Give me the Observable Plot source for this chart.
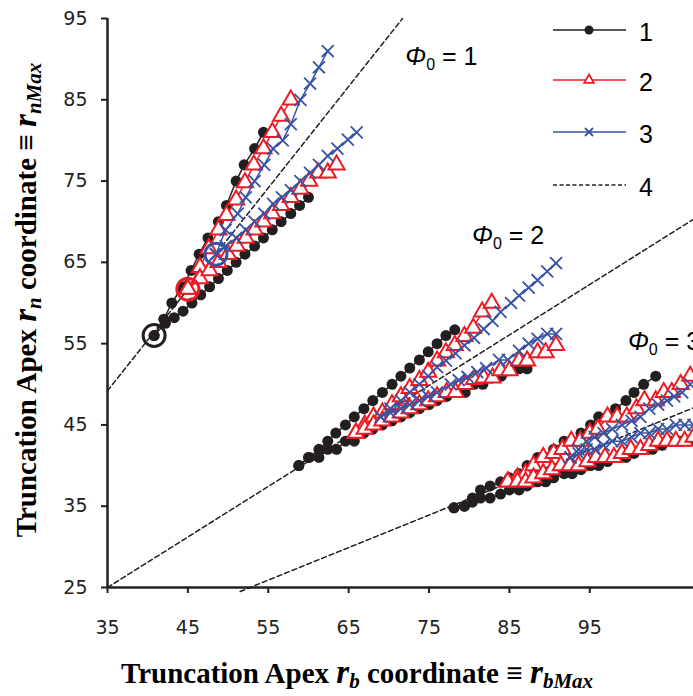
<!DOCTYPE html>
<html><head><meta charset="utf-8">
<script src="https://cdn.jsdelivr.net/npm/d3@7"></script>
<script src="https://cdn.jsdelivr.net/npm/@observablehq/plot@0.6"></script>
<style>
body{margin:0;background:#fff}
svg [aria-label$="tick label"] text{font-size:19px !important}
</style>
</head><body><div id="chart"></div>
<script>
const xTicks = [35,45,55,65,75,85,95];
const yTicks = [25,35,45,55,65,75,85,95];
const seriesNames = ["1","2","3","4"];
const phiLabels = ["1","2","3"];

// Φ0 = 1
const s1p1Upper = [[40.8,56],[42,58],[43,60],[44.3,62],[45.4,64],[46.4,66],[47.5,68],[48.8,70],[49.8,72],[51,75],[52,77],[53.3,79],[54.4,81]];
const s1p1Lower = [[40.8,56],[42.2,57.5],[43.3,58.2],[44.4,59],[45.5,60],[46.6,61],[47.7,62],[48.8,63],[49.9,64],[51,65],[52.1,66],[53.3,67],[54.4,68],[55.5,69],[56.6,70],[57.8,71],[58.9,72],[60,73]];
const s2p1Upper = [[45,61.7],[46.5,64.4],[47.6,66.7],[48.8,69],[49.8,70.8],[51,72.7],[52.1,74.8],[53.2,77],[54.4,79],[55.5,81],[56.6,83],[57.8,85]];
const s2p1Lower = [[45,61.7],[46.5,63],[47.7,64],[48.8,65],[50,66],[51.1,67],[52.2,68],[53.3,69],[54.4,70],[55.5,71],[56.6,72],[57.8,73],[59,74],[60.1,75],[61.2,76],[62.4,76],[63.5,77]];
const s3p1Upper = [[48.5,66],[49.7,69],[51.2,71],[52.2,73],[53.3,75],[54.5,77],[55.6,79],[56.8,80],[57.8,82],[59,85],[60.2,87],[61.3,89],[62.4,91]];
const s3p1Lower = [[48.5,66],[49.7,67],[51,68],[52.2,69],[53.3,70],[54.5,71],[55.6,72.2],[56.7,73],[57.8,73.9],[59,75],[60.2,76],[61.3,77],[62.4,78.1],[63.6,79],[64.9,80.1],[66,81]];

// Φ0 = 2
const s1p2Upper = [[58.8,40],[60.1,41],[61.3,42],[62.4,43],[63.4,44],[64.6,45],[65.7,46],[66.9,47],[68,48],[69.2,49],[70.4,50],[71.5,51],[72.6,52],[73.8,53],[74.9,54],[76,55],[77.1,56],[78.2,56.7]];
const s1p2Lower = [[58.8,40],[60,41],[61.3,41],[62.4,42],[63.5,42],[64.6,43],[65.7,43],[66.9,44],[68,44.5],[69.2,45],[70.4,45.5],[71.5,46],[72.6,46.5],[73.8,47],[75,47.5],[76,48],[77.2,48.5],[78.3,49],[79.5,49],[80.6,50],[81.7,50],[82.9,50.8],[84,51],[85.2,51.9],[86.2,51.9],[87.2,51.9]];
const s2p2Upper = [[65.9,44],[67,45],[68.1,46],[69.2,46.5],[70.4,47.5],[71.5,48.5],[72.6,49.5],[73.8,50.5],[74.9,51.5],[76,52.9],[77.1,53.9],[78.2,54.8],[79.4,55.9],[80.5,56.9],[81.6,58.9],[82.8,60]];
const s2p2Lower = [[65.9,44],[67,44.5],[68.1,45],[69.2,45.5],[70.4,46],[71.5,46.5],[72.6,47],[73.8,47.5],[74.9,48],[76,48.5],[77.2,49],[78.3,49],[79.5,50],[80.6,50.6],[81.8,50.8],[82.9,50.8],[83.9,51.7],[85,51.7],[86.2,52.9],[87.2,52.9],[88.5,53.9],[89.5,53.9],[90.8,54.8]];
const s3p2Upper = [[69,46],[70.2,47],[71.5,48],[72.6,49],[73.8,50],[74.9,51],[76,52.1],[77.1,52.9],[78.3,53.8],[79.4,54.8],[80.6,55.7],[81.8,56.8],[82.9,57.8],[83.9,58.9],[85.2,60],[86.2,60.9],[87.4,61.9],[88.5,62.8],[89.7,63.9],[90.8,64.9]];
const s3p2Lower = [[69,46],[70.2,46.5],[71.5,47],[72.6,47.5],[73.8,48],[74.9,48.5],[76,49],[77.7,50],[78.7,50.5],[79.8,50.9],[81,51.5],[82.1,52],[83.7,53],[84.8,53],[86.2,54.1],[87.4,55],[88.5,55.6],[89.7,56.2],[90.8,56.2]];

// Φ0 = 3
const s1p3Upper = [[78.1,34.8],[79.4,35],[80.4,36],[81.4,37],[82.6,37.5],[83.9,38],[85,38.5],[86.2,39],[87.2,40],[88.5,41],[89.5,41],[90.5,42],[91.8,43],[92.8,43],[93.9,44],[95.1,45],[96.1,46],[97.2,46],[98.2,47],[99.5,48],[100.5,49],[101.7,50],[103.2,51]];
const s1p3Lower = [[78.1,34.8],[79.4,35],[80.4,35.5],[81.4,36],[82.6,36],[83.9,36.5],[85,37],[86.2,37],[87.2,37.5],[88.5,38],[89.5,38],[90.5,38.5],[91.8,39],[92.8,39],[93.9,39.5],[95.1,40],[96.1,40],[97.2,40.5],[98.2,41],[99.5,41],[100.5,41.5],[101.7,42],[102.8,42],[104,42.5],[105,43],[106.2,43],[107.3,43]];
const s2p3Upper = [[84.8,38],[86,38.5],[87,39],[88,40],[89.2,41],[90.5,41.5],[91.6,42],[92.7,43],[93.8,43],[95,44],[96,44.5],[97.2,46],[98.4,46],[99.6,46],[100.8,47],[101.8,48],[103.2,48],[104.2,49],[105.2,49],[106.3,50],[107.5,51]];
const s2p3Lower = [[84.8,38],[86,38],[87,38],[88,38.5],[89.2,39],[90.3,39.5],[91.4,40],[92.5,40],[93.6,40],[94.7,40.5],[95.8,41],[96.9,41],[98,41],[99,41.5],[100.1,42],[101.3,42],[102.4,42.5],[103.5,43],[104.6,43],[105.7,43],[106.8,43],[107.9,43.5]];
const s3p3Upper = [[92.6,41],[93.6,42],[94.6,43],[95.6,43.5],[96.7,44],[97.8,44.5],[99,45],[100.2,45.5],[101.3,46],[102.4,47],[103.5,47.5],[104.6,48],[105.5,48.5],[106.5,49],[107.5,50]];
const s3p3Lower = [[92.6,41],[93.6,41.5],[94.6,42],[95.6,42],[96.7,42.5],[97.8,43],[99,43],[100.2,43.5],[101.3,44],[102.4,44],[103.5,44.5],[104.6,44.5],[105.7,45],[106.8,45],[107.9,45]];

// series 4: dashed reference lines
const s4p1 = [[35,49.2],[71.7,95]];
const s4p2 = [[35,25],[107.9,70.3]];
const s4p3 = [[51.5,24.5],[107.9,47.1]];

// open circles marking starting points (Φ0 = 1)
const startCircles = [[40.8,56,"1"],[45,61.7,"2"],[48.5,66,"3"]];

// Φ0 label anchor points (data units)
const phiPos = [[72.1, 89.2], [80.4, 67.2], [99.8, 54.1]];

const colors = {"1":"#231f20","2":"#ed1c24","3":"#3953a4","4":"#231f20"};

const rows = [];
function add(series, group, pts){ pts.forEach(([x,y]) => rows.push({series, group, x, y})); }
add("1","1-1u",s1p1Upper); add("1","1-1l",s1p1Lower);
add("2","2-1u",s2p1Upper); add("2","2-1l",s2p1Lower);
add("3","3-1u",s3p1Upper); add("3","3-1l",s3p1Lower);
add("1","1-2u",s1p2Upper); add("1","1-2l",s1p2Lower);
add("2","2-2u",s2p2Upper); add("2","2-2l",s2p2Lower);
add("3","3-2u",s3p2Upper); add("3","3-2l",s3p2Lower);
add("1","1-3u",s1p3Upper); add("1","1-3l",s1p3Lower);
add("2","2-3u",s2p3Upper); add("2","2-3l",s2p3Lower);
add("3","3-3u",s3p3Upper); add("3","3-3l",s3p3Lower);
const dashRows = [];
[s4p1,s4p2,s4p3].forEach((pts,i)=>pts.forEach(([x,y])=>dashRows.push({phi:phiLabels[i],x,y})));
const circleRows = startCircles.map(([x,y,s])=>({x,y,series:s}));

const by = s => rows.filter(d => d.series === s);

const plot = Plot.plot({
  width: 693, height: 696,
  marginLeft: 107, marginRight: 0, marginTop: 18, marginBottom: 109,
  x: {domain: [35, 107.9]},
  y: {domain: [25, 95]},
  style: {fontFamily: "'DejaVu Sans', sans-serif", fontSize: "19px", color: "#231f20", background: "#fff", overflow: "visible"},
  marks: [
    Plot.axisX({ticks: xTicks, tickSize: 6, tickPadding: 27, label: null, strokeWidth: 2, fontSize: 19}),
    Plot.axisY({ticks: yTicks, tickSize: 6, tickPadding: 14, label: null, strokeWidth: 2, fontSize: 19}),
    Plot.ruleX([35], {stroke: "#231f20", strokeWidth: 2.5}),
    Plot.ruleY([25], {stroke: "#231f20", strokeWidth: 2.5}),
    Plot.line(dashRows, {x: "x", y: "y", z: "phi", stroke: colors["4"], strokeWidth: 1.5, strokeDasharray: "5,3"}),
    Plot.line(by("1"), {x: "x", y: "y", z: "group", stroke: colors["1"], strokeWidth: 1.5}),
    Plot.dot(by("1"), {x: "x", y: "y", r: 5.5, fill: colors["1"], stroke: "none"}),
    Plot.line(by("2"), {x: "x", y: "y", z: "group", stroke: colors["2"], strokeWidth: 1.5}),
    Plot.dot(by("2"), {x: "x", y: "y", r: 6, symbol: "triangle", fill: "#fff", stroke: colors["2"], strokeWidth: 2}),
    Plot.line(by("3"), {x: "x", y: "y", z: "group", stroke: colors["3"], strokeWidth: 1.5}),
    Plot.dot(by("3"), {x: "x", y: "y", r: 5.5, symbol: "times", stroke: colors["3"], strokeWidth: 1.8}),
    Plot.dot(circleRows, {x: "x", y: "y", r: 11, fill: "none", stroke: d => colors[d.series], strokeWidth: 3})
  ]
});

const svg = d3.select(plot);
const xs = plot.scale("x"), ysc = plot.scale("y");

// Φ0 annotations
phiPos.forEach(([x,y],i) => {
  const t = svg.append("text").attr("x", xs.apply(x)).attr("y", ysc.apply(y)).attr("text-anchor", "start")
    .attr("font-family", "'Liberation Sans', Arial, sans-serif").attr("font-size", 25).attr("fill", "#000");
  t.append("tspan").attr("font-style", "italic").text("Φ");
  t.append("tspan").attr("font-size", 16).attr("dy", 5).text("0");
  t.append("tspan").attr("dy", -5).text(" = " + phiLabels[i]);
});

// legend
const lg = svg.append("g");
const legY = [30, 80, 132, 185];
seriesNames.forEach((s,i) => {
  const y = legY[i];
  lg.append("line").attr("x1", 553).attr("x2", 626).attr("y1", y).attr("y2", y)
    .attr("stroke", colors[s]).attr("stroke-width", s === "4" ? 1.3 : 1.5)
    .attr("stroke-dasharray", s === "4" ? "4,2.5" : null);
  if (s === "1") lg.append("circle").attr("cx", 589).attr("cy", y).attr("r", 4.5).attr("fill", colors[s]);
  if (s === "2") lg.append("path").attr("d", d3.symbol(d3.symbolTriangle, 40)()).attr("transform", `translate(589,${y})`).attr("fill","#fff").attr("stroke", colors[s]).attr("stroke-width", 1.8);
  if (s === "3") lg.append("path").attr("d", "M-4,-4L4,4M-4,4L4,-4").attr("transform", `translate(589,${y})`).attr("stroke", colors[s]).attr("stroke-width", 1.8);
  lg.append("text").attr("x", 639).attr("y", y + 11).attr("text-anchor", "start")
    .attr("font-family", "'Liberation Sans', Arial, sans-serif")
    .attr("font-size", 25).attr("fill", "#000").text(s);
});

// axis titles
function title(sub, x, y, rotate) {
  const t = svg.append("text").attr("text-anchor", "middle")
    .attr("font-family", "'Liberation Serif', 'Times New Roman', serif").attr("font-weight", "bold")
    .attr("font-size", 29).attr("fill", "#000")
    .attr("transform", `translate(${x},${y})${rotate ? " rotate(-90)" : ""}`);
  t.append("tspan").text("Truncation Apex ");
  t.append("tspan").attr("font-style", "italic").attr("font-size", 33).text("r");
  t.append("tspan").attr("font-style", "italic").attr("font-size", 21).attr("dy", 5).text(sub);
  t.append("tspan").attr("dy", -5).text(" coordinate \u2261 ");
  t.append("tspan").attr("font-style", "italic").attr("font-size", 33).text("r");
  t.append("tspan").attr("font-style", "italic").attr("font-size", 21).attr("dy", 5).text(sub + "Max");
}
title("b", 357, 683, false);
title("n", 36, 300, true);

document.getElementById("chart").appendChild(plot);
</script>
</body></html>
